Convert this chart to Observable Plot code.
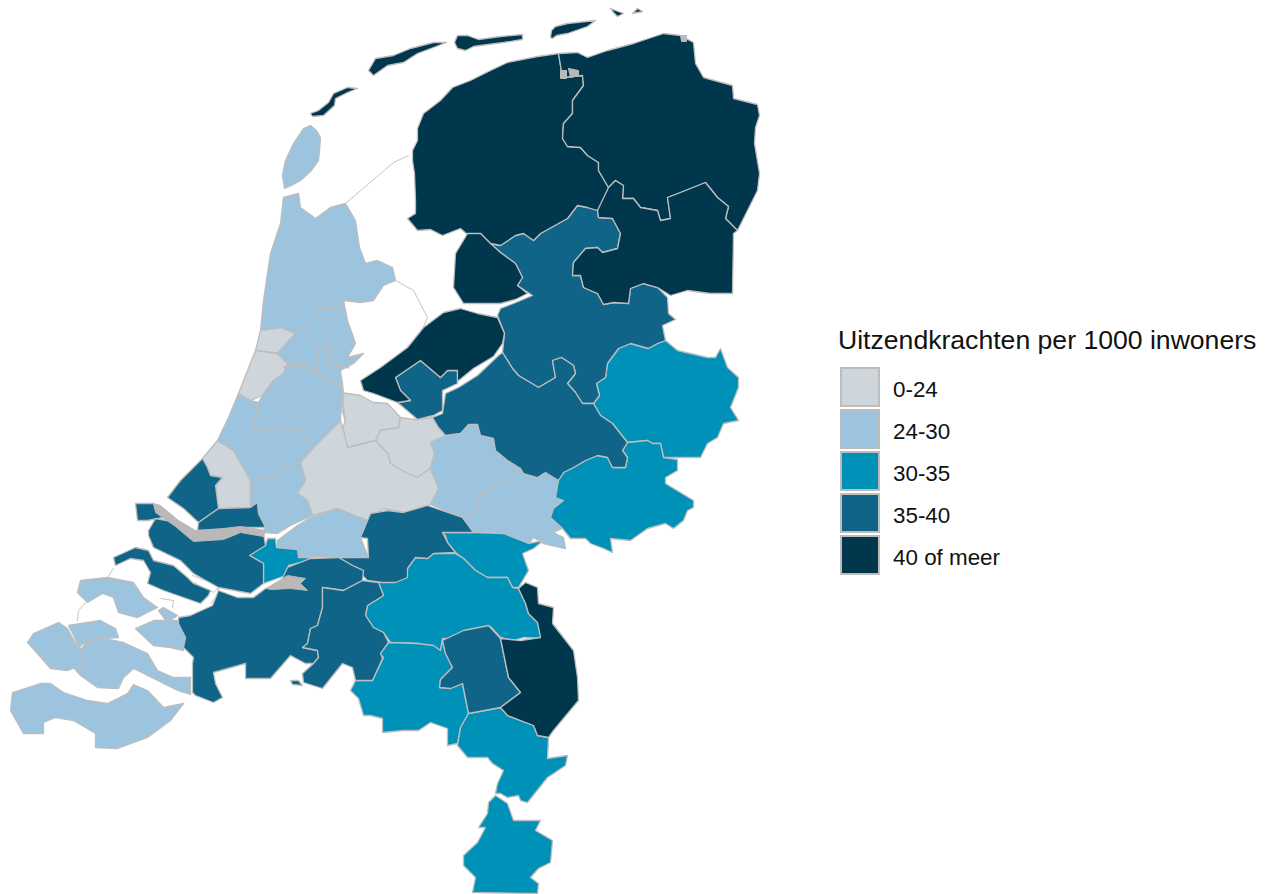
<!DOCTYPE html>
<html><head><meta charset="utf-8">
<script src="https://cdn.jsdelivr.net/npm/d3@7"></script>
<script src="https://cdn.jsdelivr.net/npm/@observablehq/plot@0.6"></script>
<style>
html,body{margin:0;background:#fff}
#wrap{position:relative;width:1269px;height:894px;overflow:hidden;font-family:"Liberation Sans",Arial,sans-serif;color:#111}
#legend{position:absolute;left:838px;top:324px}
#legend .t{font-size:26.6px;line-height:32px;white-space:nowrap;position:absolute;left:0;top:0}
.sw{position:absolute;left:2px;width:36px;height:36px;border:2px solid #bdbdbd}
.lb{position:absolute;left:55px;font-size:22.4px;line-height:26px;white-space:nowrap}
</style></head><body><div id="wrap"></div>
<script>
const bands = ["0-24","24-30","30-35","35-40","40 of meer"];
const bandColors = ["#ced6dc","#9dc4de","#0091b8","#0f6488","#00374d"];
const legendTitle = "Uitzendkrachten per 1000 inwoners";

const texel = [[310,125],[316,130],[320,137],[319,150],[318,160],[311,170],[300,180],[291,185],[284,188],[282,175],[285,160],[293,143],[303,128]];
const vlieland = [[310,113],[318,110],[328,102],[333,93],[347,87],[357,88],[347,92],[335,98],[334,105],[323,115],[312,116]];
const terschelling = [[368,70],[375,58],[393,55],[410,48],[433,42],[446,42],[433,47],[417,53],[403,62],[387,65],[373,75]];
const ameland = [[454,42],[457,35],[467,35],[478,39],[500,36],[522,34],[522,39],[503,42],[480,45],[473,46],[465,50],[457,48]];
const schiermonnikoog = [[550,37],[551,30],[555,26],[567,23],[595,20],[587,26],[567,33],[556,35],[552,38]];
const rottum1 = [[610,8],[615,10],[623,13],[617,16],[613,12]];
const rottum2 = [[632,13],[637,8],[642,11]];
const friesland = [[558,53],[537,56],[507,62],[490,70],[470,80],[452,87],[440,100],[423,113],[417,128],[417,140],[412,150],[412,160],[414,173],[415,200],[415,213],[407,218],[417,230],[430,229],[442,235],[460,228],[468,235],[480,233],[490,243],[500,245],[515,235],[523,233],[533,240],[540,233],[567,218],[577,205],[587,207],[597,210],[608,197],[608,187],[598,170],[598,162],[587,155],[580,147],[567,146],[562,138],[563,123],[572,113],[572,100],[583,85],[582,75],[562,77]];
const groningen = [[558,53],[577,52],[587,57],[607,50],[633,43],[663,33],[680,35],[693,42],[695,63],[703,77],[732,85],[733,98],[757,104],[759,115],[755,127],[754,143],[759,173],[757,190],[747,210],[737,230],[725,218],[728,206],[717,197],[705,182],[680,192],[667,197],[670,218],[660,220],[657,210],[640,207],[633,198],[622,198],[623,185],[615,180],[608,187],[598,170],[598,162],[587,155],[580,147],[567,146],[562,138],[563,123],[572,113],[572,100],[583,85],[582,75],[562,77]];
const drenthe = [[608,187],[615,180],[623,185],[622,198],[633,198],[640,207],[657,210],[660,220],[670,218],[667,197],[680,192],[705,182],[717,197],[728,206],[725,218],[737,230],[733,233],[732,293],[710,293],[687,290],[670,295],[657,287],[643,283],[630,288],[628,303],[613,302],[603,304],[597,293],[583,287],[580,275],[572,275],[573,262],[585,248],[597,247],[602,252],[617,248],[620,233],[612,218],[598,217],[597,210]];
const polder = [[467,233],[480,233],[490,243],[500,252],[515,263],[522,277],[517,285],[527,293],[515,299],[500,303],[463,303],[453,287],[455,253]];
const overijssel = [[490,243],[500,245],[515,235],[523,233],[533,240],[540,233],[567,218],[577,205],[587,207],[597,210],[598,217],[612,218],[620,233],[617,248],[602,252],[597,247],[585,248],[573,262],[572,275],[580,275],[583,287],[597,293],[603,304],[613,302],[628,303],[630,288],[643,283],[657,287],[667,297],[668,313],[675,319],[662,325],[665,340],[657,343],[648,348],[630,343],[618,348],[607,363],[605,377],[596,383],[599,395],[593,403],[582,403],[575,392],[567,383],[575,373],[573,365],[561,357],[552,360],[555,377],[538,387],[518,375],[512,368],[502,352],[504,333],[497,315],[500,308],[513,303],[532,295],[517,285],[522,277],[515,263],[500,252]];
const flevoNoord = [[360,380],[380,367],[407,347],[423,327],[443,312],[460,308],[477,313],[497,317],[504,333],[502,343],[493,356],[473,368],[457,381],[457,370],[447,370],[440,377],[420,360],[395,377],[400,390],[410,400],[397,402],[373,393],[363,390]];
const almere = [[395,377],[420,360],[440,377],[447,370],[457,370],[457,383],[442,390],[442,410],[433,415],[417,419],[403,407],[397,402],[410,400],[400,390]];
const veluwe = [[502,352],[512,368],[518,375],[538,387],[555,377],[552,360],[561,357],[573,365],[575,373],[567,383],[575,392],[582,403],[593,403],[600,415],[612,423],[627,442],[622,450],[627,457],[625,467],[612,467],[607,457],[597,455],[585,460],[573,467],[563,472],[558,480],[545,472],[537,477],[523,473],[520,468],[507,460],[495,450],[493,438],[480,435],[477,424],[468,424],[460,433],[445,435],[438,427],[432,417],[442,413],[445,393],[458,387],[477,375],[498,355]];
const twente = [[593,403],[599,395],[596,383],[605,377],[607,363],[618,348],[630,343],[648,348],[657,343],[665,340],[677,350],[707,357],[715,357],[720,348],[727,367],[738,377],[738,387],[730,407],[738,420],[723,423],[717,437],[707,443],[700,457],[663,457],[660,443],[652,443],[647,440],[627,442],[612,423],[600,415]];
const achterhoek = [[627,442],[647,440],[652,443],[660,443],[663,457],[677,459],[677,470],[665,477],[665,483],[693,500],[693,507],[687,510],[683,520],[673,528],[665,523],[647,528],[630,540],[610,538],[612,552],[603,548],[590,543],[585,538],[570,538],[562,528],[550,517],[553,508],[563,500],[555,497],[558,480],[563,472],[573,467],[585,460],[597,455],[607,457],[612,467],[625,467],[627,457],[622,450]];
const arnhem = [[430,442],[445,435],[460,433],[468,424],[477,424],[480,435],[493,438],[495,450],[507,460],[522,468],[502,482],[480,493],[475,510],[462,517],[430,504],[438,488],[430,468],[434,453]];
const deVallei = [[522,468],[523,473],[537,477],[545,472],[558,480],[555,497],[563,500],[553,508],[550,517],[562,528],[553,532],[563,537],[565,548],[543,543],[533,537],[527,545],[508,538],[500,538],[473,532],[460,517],[475,510],[480,493],[502,482]];
const rivieren = [[360,537],[370,513],[387,510],[403,512],[427,505],[462,517],[473,532],[442,532],[447,542],[455,552],[433,553],[427,558],[415,557],[407,568],[407,577],[395,582],[382,582],[367,580],[362,575],[363,570],[352,565],[338,557],[368,557],[367,538]];
const gorinchem = [[277,540],[297,525],[310,517],[337,508],[367,520],[360,537],[368,557],[298,556],[297,548],[277,547]];
const drechtsteden = [[267,538],[275,538],[276,547],[297,549],[298,557],[312,557],[300,562],[288,565],[285,575],[263,583],[263,563],[249,555],[252,548],[265,545]];
const delftWestland = [[202,458],[207,467],[210,475],[222,477],[215,485],[218,508],[198,522],[183,508],[167,497],[180,480]];
const rijnmondNoord = [[198,522],[218,508],[250,507],[257,502],[258,513],[265,527],[240,527],[223,530],[197,530]];
const voorne = [[135,503],[153,503],[163,517],[147,520],[137,520]];
const rijnmondZuid = [[148,530],[155,518],[177,522],[193,538],[223,537],[240,530],[263,533],[265,545],[249,555],[263,563],[263,583],[250,593],[218,587],[193,573],[180,560],[153,547],[148,535]];
const goeree = [[113,557],[135,547],[148,550],[153,560],[173,565],[187,577],[193,583],[210,590],[208,595],[200,603],[183,597],[163,590],[147,583],[150,572],[143,560],[130,558],[115,565]];
const westBrabant = [[178,617],[190,615],[212,605],[218,590],[237,597],[253,597],[265,588],[280,582],[287,567],[310,558],[338,557],[352,565],[363,570],[362,580],[343,590],[322,587],[322,607],[317,625],[310,628],[307,643],[302,647],[317,650],[318,657],[313,663],[305,663],[290,655],[270,678],[245,678],[245,663],[213,672],[215,683],[222,697],[213,702],[195,695],[192,692],[192,663],[193,657],[183,647],[185,637],[178,623]];
const baarle = [[290,680],[298,680],[302,685],[292,684]];
const midBrabant = [[322,587],[343,590],[362,580],[378,582],[383,595],[367,605],[365,615],[373,627],[383,632],[388,642],[380,653],[382,658],[372,680],[355,680],[352,667],[342,663],[322,688],[303,682],[302,673],[313,663],[318,657],[317,650],[302,647],[307,643],[310,628],[317,625],[322,607]];
const noBrabant = [[378,582],[403,578],[407,568],[415,557],[427,558],[433,553],[455,553],[463,558],[475,570],[487,577],[507,577],[512,587],[518,588],[525,603],[528,613],[537,622],[542,638],[523,637],[513,640],[500,637],[490,626],[463,632],[457,638],[442,638],[440,650],[433,647],[418,643],[390,642],[383,632],[373,627],[365,615],[367,605],[383,595]];
const nijmegen = [[440,532],[473,532],[503,533],[528,543],[543,540],[533,548],[522,553],[528,570],[518,587],[512,587],[507,577],[487,577],[475,570],[463,558],[455,552],[447,542],[445,535]];
const noordLimburg = [[518,588],[525,582],[537,587],[538,603],[553,607],[552,623],[573,650],[577,677],[578,700],[553,730],[548,737],[537,735],[533,725],[507,715],[500,707],[520,692],[508,677],[500,638],[520,640],[540,637],[537,622],[528,613],[525,603]];
const middenLimburg = [[442,640],[463,630],[488,625],[500,638],[508,677],[520,692],[500,707],[468,713],[462,683],[450,688],[439,687],[440,679],[452,667],[445,653]];
const eindhoven = [[388,642],[417,643],[433,645],[440,650],[442,640],[445,653],[452,667],[440,679],[439,687],[450,688],[462,683],[468,713],[460,727],[457,743],[447,745],[447,728],[430,722],[418,730],[403,730],[382,732],[382,718],[370,715],[363,715],[358,698],[350,690],[355,680],[372,680],[383,657],[378,652]];
const limburgMidden = [[468,713],[500,707],[507,715],[533,725],[537,735],[548,737],[547,758],[567,755],[565,765],[547,777],[527,802],[520,800],[518,795],[507,797],[500,793],[495,793],[497,783],[503,770],[492,763],[487,757],[467,757],[457,745],[460,727]];
const zuidLimburg = [[495,795],[507,803],[513,820],[540,820],[535,830],[552,840],[550,862],[538,868],[530,877],[538,883],[537,893],[472,892],[475,877],[463,865],[463,855],[477,842],[485,827],[478,827],[487,813],[488,802]];
const schouwen = [[77,592],[80,580],[107,577],[133,582],[143,597],[157,607],[137,617],[118,612],[113,597],[102,593],[87,602]];
const tholen = [[158,610],[163,607],[177,615],[167,622]];
const noordBeveland = [[68,625],[100,620],[115,628],[118,637],[100,638],[87,640],[78,647],[73,635]];
const walcheren = [[27,642],[33,633],[58,622],[67,628],[77,647],[82,648],[82,665],[67,670],[50,668],[37,653]];
const zuidBeveland = [[82,647],[87,640],[103,638],[123,642],[147,653],[157,670],[173,677],[190,677],[190,694],[177,690],[153,678],[133,668],[123,677],[118,688],[97,687],[80,675],[73,667],[82,665]];
const reimerswaal = [[135,628],[153,620],[178,620],[185,637],[183,650],[170,647],[153,645],[140,633]];
const zeeuwsVlaanderen = [[12,692],[40,683],[50,683],[63,692],[87,700],[107,703],[127,693],[133,684],[147,690],[163,707],[183,703],[170,720],[147,737],[117,748],[95,747],[95,733],[73,720],[55,717],[43,722],[43,733],[23,733],[10,710]];
const noordKop = [[283,197],[298,193],[300,207],[315,218],[330,207],[345,203],[355,220],[359,247],[365,263],[377,260],[392,267],[395,280],[383,285],[373,300],[360,302],[343,300],[340,308],[318,308],[307,325],[295,333],[280,327],[260,330],[263,300],[270,253],[280,223]];
const waterland = [[295,333],[307,325],[318,308],[340,308],[343,300],[347,320],[353,337],[355,343],[347,357],[363,353],[353,363],[340,370],[342,383],[333,383],[317,372],[302,363],[287,363],[277,353]];
const ijmond = [[260,330],[280,327],[295,333],[277,353],[255,350]];
const haarlem = [[255,350],[277,353],[287,363],[283,373],[273,380],[262,395],[250,400],[238,393],[247,370]];
const amstelland = [[342,383],[340,420],[313,447],[300,428],[285,432],[280,427],[258,430],[252,427],[258,402],[262,395],[273,380],[283,373],[287,363],[302,363],[317,372],[333,383]];
const leiden = [[238,393],[250,400],[258,402],[252,427],[258,430],[280,427],[285,432],[300,428],[313,447],[300,462],[280,470],[273,477],[250,480],[233,450],[217,440],[228,417]];
const denHaag = [[217,440],[233,450],[250,480],[250,507],[218,508],[215,485],[222,477],[210,475],[207,467],[202,458]];
const gouda = [[250,480],[273,477],[280,470],[300,462],[305,480],[297,493],[307,500],[312,515],[290,525],[277,533],[265,532],[258,513],[255,502],[250,507]];
const gooi = [[340,392],[360,395],[373,402],[387,403],[400,417],[398,427],[380,430],[375,440],[347,447],[342,430],[345,418],[340,408]];
const eemland = [[400,417],[413,419],[433,417],[438,427],[445,435],[430,442],[434,453],[430,468],[417,477],[407,473],[390,463],[387,453],[375,440],[380,430],[398,427]];
const utrecht = [[313,447],[340,420],[343,430],[347,447],[375,440],[387,453],[390,463],[407,473],[417,477],[430,468],[438,488],[430,504],[403,512],[383,508],[367,520],[337,508],[312,515],[307,500],[297,493],[305,480],[300,462]];

const band0 = {gooi, eemland, utrecht, ijmond, haarlem, denHaag};
const band1 = {texel, noordKop, waterland, amstelland, leiden, gouda, arnhem, deVallei, gorinchem, schouwen, tholen, noordBeveland, walcheren, zuidBeveland, reimerswaal, zeeuwsVlaanderen};
const band2 = {twente, achterhoek, nijmegen, drechtsteden, noBrabant, eindhoven, limburgMidden, zuidLimburg};
const band3 = {overijssel, almere, veluwe, rivieren, delftWestland, rijnmondNoord, voorne, rijnmondZuid, goeree, westBrabant, baarle, midBrabant, middenLimburg};
const band4 = {vlieland, terschelling, ameland, schiermonnikoog, rottum1, rottum2, friesland, groningen, drenthe, polder, flevoNoord, noordLimburg};

const harbourGrey = [
  [[153,503],[160,505],[178,520],[195,530],[223,528],[240,526],[265,530],[263,536],[240,532],[223,539],[193,541],[175,526],[155,512]],
  [[266,588],[287,575],[305,578],[300,583],[307,590],[290,588],[270,589]],
  [[560,70],[566,70],[566,78],[560,78]],[[568,68],[578,70],[578,75],[570,77]],[[680,35],[686,35],[686,41],[681,41]]
];
const harbourLines = [
  [[283,367],[302,365],[317,373],[333,384],[342,385],[343,396]],
  [[317,372],[317,347],[328,345],[328,363],[348,367]],
  [[342,396],[344,418]]
];
const waterLines = [
  [[345,203],[393,162],[408,155]],
  [[395,280],[413,290],[427,317],[420,333]],
  [[107,577],[113,568]],
  [[77,620],[78,610],[85,602]],
  [[192,575],[210,582],[218,587],[213,592],[193,582]],
  [[218,587],[217,595],[210,603]],
  [[160,598],[173,600],[172,607]],
  [[360,380],[363,390]]
];

const closed = (name, band, ring) => [...ring, ring[0]].map(([x, y]) => ({name, band, x, y}));
const rows = [band0, band1, band2, band3, band4].flatMap((group, i) =>
  Object.entries(group).flatMap(([name, ring]) => closed(name, bands[i], ring)));
const flat = (list, prefix) => list.flatMap((path, i) => path.map(([x, y]) => ({id: prefix + i, x, y})));
const harbourRows = harbourGrey.flatMap((ring, i) => [...ring, ring[0]].map(([x, y]) => ({id: "h" + i, x, y})));

const chart = Plot.plot({
  width: 1269, height: 894,
  marginTop: 0, marginRight: 0, marginBottom: 0, marginLeft: 0,
  x: {domain: [0, 1269], axis: null},
  y: {domain: [0, 894], range: [0, 894], axis: null},
  color: {domain: bands, range: bandColors},
  style: {background: "#fff"},
  marks: [
    Plot.line(flat(waterLines, "w"), {x: "x", y: "y", z: "id", stroke: "#c4c4c4", strokeWidth: 1, curve: "linear"}),
    Plot.line(rows, {x: "x", y: "y", z: "name", fill: "band", stroke: "#bdbdbd", strokeWidth: 1.3, strokeLinejoin: "round", curve: "linear"}),
    Plot.line(harbourRows, {x: "x", y: "y", z: "id", fill: "#b9b9b9", stroke: "#b9b9b9", strokeWidth: 1, curve: "linear"}),
    Plot.line(flat(harbourLines, "l"), {x: "x", y: "y", z: "id", stroke: "#bdbdbd", strokeWidth: 1.8, curve: "linear"})
  ]
});

const wrap = document.getElementById("wrap");
wrap.append(chart);
const legend = document.createElement("div");
legend.id = "legend";
const title = document.createElement("div");
title.className = "t"; title.textContent = legendTitle;
legend.append(title);
bands.forEach((b, i) => {
  const top = 43 + i * 42;
  const s = document.createElement("div");
  s.className = "sw"; s.style.top = top + "px"; s.style.background = bandColors[i];
  const l = document.createElement("div");
  l.className = "lb"; l.style.top = (top + 10) + "px"; l.textContent = b;
  legend.append(s, l);
});
wrap.append(legend);
</script></body></html>
